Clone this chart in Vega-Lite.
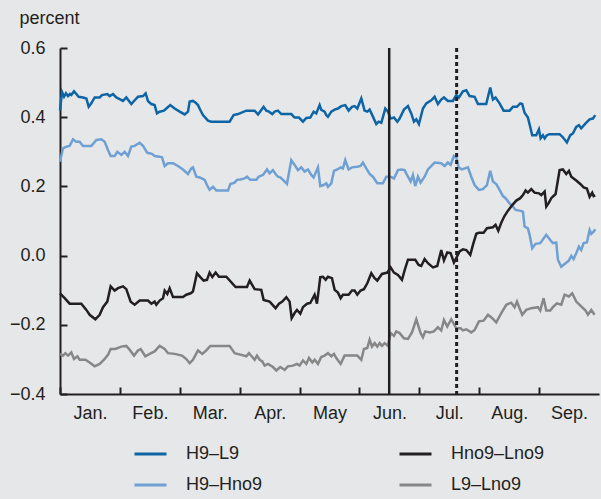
{
"$schema": "https://vega.github.io/schema/vega-lite/v6.json",
"width": 539, "height": 346,
"autosize": {"type": "none"},
"padding": {"left": 60, "top": 48, "right": 2, "bottom": 105},
"background": "#e6e7e9",
"config": {"view": {"stroke": null}, "font": "Liberation Sans"},
"datasets": {
"blue": [[0,0.42],[0.033,0.473],[0.067,0.459],[0.1,0.469],[0.134,0.461],[0.167,0.467],[0.189,0.464],[0.234,0.475],[0.273,0.467],[0.311,0.459],[0.384,0.457],[0.44,0.454],[0.479,0.43],[0.523,0.44],[0.579,0.457],[0.662,0.457],[0.701,0.464],[0.79,0.467],[0.829,0.461],[0.885,0.467],[0.94,0.457],[0.996,0.452],[1.052,0.447],[1.107,0.457],[1.191,0.438],[1.247,0.449],[1.302,0.459],[1.386,0.461],[1.43,0.469],[1.469,0.447],[1.525,0.438],[1.58,0.435],[1.619,0.411],[1.664,0.416],[1.736,0.419],[1.775,0.425],[1.842,0.435],[1.914,0.425],[1.998,0.416],[2.081,0.408],[2.137,0.416],[2.165,0.445],[2.22,0.447],[2.265,0.442],[2.304,0.435],[2.343,0.421],[2.387,0.406],[2.471,0.39],[2.526,0.387],[2.832,0.387],[2.899,0.406],[2.972,0.409],[3.111,0.419],[3.25,0.419],[3.306,0.408],[3.361,0.421],[3.4,0.43],[3.445,0.419],[3.489,0.416],[3.545,0.409],[3.584,0.416],[3.639,0.419],[3.695,0.409],[3.862,0.409],[3.918,0.399],[3.99,0.399],[4.057,0.387],[4.113,0.398],[4.179,0.399],[4.235,0.416],[4.279,0.411],[4.335,0.435],[4.363,0.421],[4.418,0.416],[4.446,0.406],[4.474,0.401],[4.53,0.416],[4.585,0.422],[4.641,0.425],[4.697,0.432],[4.763,0.435],[4.819,0.419],[4.875,0.43],[4.919,0.432],[4.964,0.425],[5.031,0.454],[5.086,0.419],[5.131,0.416],[5.17,0.422],[5.214,0.406],[5.281,0.38],[5.32,0.387],[5.365,0.384],[5.431,0.425],[5.476,0.416],[5.52,0.396],[5.576,0.399],[5.632,0.387],[5.671,0.396],[5.743,0.422],[5.81,0.432],[5.865,0.411],[5.91,0.387],[5.949,0.394],[5.993,0.38],[6.06,0.425],[6.116,0.44],[6.199,0.449],[6.255,0.459],[6.31,0.438],[6.366,0.451],[6.411,0.457],[6.477,0.447],[6.561,0.447],[6.617,0.464],[6.661,0.457],[6.728,0.475],[6.784,0.478],[6.839,0.461],[6.923,0.459],[6.978,0.438],[7.117,0.438],[7.184,0.486],[7.229,0.451],[7.273,0.457],[7.34,0.44],[7.407,0.419],[7.507,0.419],[7.563,0.43],[7.629,0.43],[7.685,0.44],[7.718,0.438],[7.757,0.413],[7.813,0.399],[7.885,0.348],[7.952,0.348],[7.997,0.365],[8.025,0.339],[8.064,0.348],[8.092,0.339],[8.13,0.348],[8.175,0.351],[8.342,0.351],[8.397,0.342],[8.464,0.327],[8.52,0.348],[8.564,0.353],[8.62,0.372],[8.665,0.377],[8.703,0.368],[8.776,0.382],[8.843,0.394],[8.898,0.396],[8.937,0.406]],
"lightblue": [[0,0.271],[0.05,0.31],[0.106,0.315],[0.161,0.317],[0.217,0.336],[0.273,0.329],[0.328,0.329],[0.384,0.317],[0.523,0.317],[0.607,0.334],[0.69,0.336],[0.746,0.329],[0.801,0.305],[0.846,0.288],[0.913,0.288],[0.957,0.3],[1.024,0.291],[1.08,0.3],[1.135,0.288],[1.191,0.315],[1.247,0.317],[1.33,0.326],[1.386,0.317],[1.458,0.297],[1.536,0.294],[1.58,0.288],[1.664,0.286],[1.703,0.284],[1.748,0.259],[1.803,0.267],[1.887,0.267],[1.97,0.259],[2.053,0.249],[2.137,0.236],[2.192,0.252],[2.22,0.255],[2.276,0.228],[2.332,0.226],[2.415,0.219],[2.454,0.204],[2.498,0.19],[2.554,0.199],[2.61,0.188],[2.805,0.188],[2.844,0.207],[2.916,0.211],[2.955,0.219],[3.011,0.22],[3.083,0.223],[3.122,0.228],[3.178,0.219],[3.278,0.219],[3.317,0.228],[3.389,0.233],[3.456,0.249],[3.5,0.238],[3.556,0.247],[3.6,0.236],[3.639,0.228],[3.678,0.226],[3.723,0.219],[3.79,0.207],[3.862,0.276],[3.918,0.262],[3.973,0.247],[4.029,0.255],[4.085,0.243],[4.14,0.249],[4.196,0.233],[4.235,0.226],[4.307,0.255],[4.346,0.201],[4.402,0.204],[4.446,0.209],[4.474,0.199],[4.53,0.209],[4.575,0.245],[4.63,0.249],[4.686,0.255],[4.724,0.252],[4.763,0.276],[4.819,0.249],[4.875,0.255],[4.964,0.257],[5.019,0.259],[5.058,0.269],[5.114,0.252],[5.17,0.236],[5.225,0.228],[5.298,0.209],[5.392,0.209],[5.448,0.228],[5.52,0.228],[5.576,0.223],[5.643,0.247],[5.699,0.249],[5.754,0.247],[5.81,0.228],[5.855,0.214],[5.893,0.233],[5.932,0.201],[5.977,0.228],[6.021,0.211],[6.088,0.228],[6.144,0.249],[6.255,0.269],[6.366,0.267],[6.422,0.259],[6.477,0.269],[6.522,0.262],[6.578,0.288],[6.617,0.284],[6.656,0.255],[6.711,0.249],[6.811,0.255],[6.867,0.228],[6.923,0.204],[6.995,0.19],[7.062,0.192],[7.129,0.204],[7.184,0.245],[7.229,0.214],[7.284,0.207],[7.34,0.19],[7.396,0.172],[7.44,0.166],[7.507,0.151],[7.563,0.142],[7.607,0.132],[7.674,0.13],[7.73,0.127],[7.757,0.084],[7.813,0.079],[7.841,0.06],[7.885,0.021],[7.941,0.034],[8.019,0.036],[8.119,0.06],[8.186,0.045],[8.23,0.036],[8.286,0.038],[8.314,-0.012],[8.37,-0.032],[8.442,-0.022],[8.498,-0.014],[8.537,-0.001],[8.576,-0.01],[8.62,0.007],[8.665,0.026],[8.703,0.016],[8.743,0.036],[8.798,0.038],[8.843,0.074],[8.871,0.063],[8.91,0.069],[8.937,0.076]],
"black": [[0,-0.109],[0.078,-0.123],[0.161,-0.139],[0.356,-0.139],[0.44,-0.157],[0.495,-0.171],[0.59,-0.184],[0.662,-0.171],[0.718,-0.149],[0.79,-0.133],[0.846,-0.089],[0.913,-0.101],[0.968,-0.094],[1.052,-0.089],[1.107,-0.097],[1.18,-0.133],[1.247,-0.142],[1.33,-0.13],[1.469,-0.13],[1.525,-0.139],[1.58,-0.133],[1.608,-0.142],[1.664,-0.13],[1.72,-0.123],[1.748,-0.101],[1.792,-0.111],[1.831,-0.094],[1.887,-0.12],[2.053,-0.12],[2.109,-0.113],[2.181,-0.109],[2.22,-0.104],[2.287,-0.051],[2.343,-0.062],[2.398,-0.072],[2.454,-0.07],[2.498,-0.049],[2.543,-0.062],[2.599,-0.049],[2.654,-0.061],[2.777,-0.061],[2.932,-0.091],[3.122,-0.091],[3.167,-0.072],[3.25,-0.097],[3.361,-0.099],[3.4,-0.128],[3.5,-0.133],[3.6,-0.152],[3.656,-0.139],[3.712,-0.133],[3.779,-0.12],[3.834,-0.133],[3.868,-0.181],[3.918,-0.166],[3.957,-0.157],[4.013,-0.168],[4.057,-0.149],[4.124,-0.139],[4.179,-0.137],[4.252,-0.113],[4.291,-0.139],[4.346,-0.062],[4.391,-0.061],[4.435,-0.07],[4.474,-0.061],[4.541,-0.065],[4.586,-0.099],[4.641,-0.107],[4.686,-0.123],[4.724,-0.113],[4.819,-0.113],[4.875,-0.101],[4.919,-0.101],[4.964,-0.113],[5.019,-0.101],[5.075,-0.097],[5.131,-0.08],[5.198,-0.051],[5.253,-0.065],[5.298,-0.072],[5.376,-0.053],[5.465,-0.049],[5.52,-0.034],[5.576,-0.049],[5.643,-0.056],[5.71,-0.07],[5.754,-0.043],[5.81,-0.012],[5.932,-0.012],[5.988,-0.027],[6.032,-0.03],[6.088,-0.01],[6.144,-0.022],[6.227,-0.034],[6.299,-0.03],[6.366,0.016],[6.411,-0.014],[6.466,0.009],[6.522,0.007],[6.578,-0.02],[6.672,0.012],[6.728,0.018],[6.784,0.016],[6.851,0.002],[6.895,0.031],[6.951,0.063],[6.995,0.066],[7.073,0.066],[7.129,0.079],[7.229,0.082],[7.273,0.089],[7.318,0.072],[7.368,0.095],[7.424,0.115],[7.48,0.13],[7.552,0.146],[7.619,0.159],[7.685,0.166],[7.73,0.175],[7.774,0.188],[7.813,0.182],[7.869,0.192],[7.924,0.182],[7.997,0.18],[8.036,0.175],[8.092,0.185],[8.12,0.142],[8.164,0.153],[8.203,0.166],[8.275,0.178],[8.342,0.247],[8.397,0.249],[8.453,0.236],[8.498,0.245],[8.537,0.228],[8.62,0.217],[8.687,0.207],[8.743,0.197],[8.798,0.194],[8.843,0.17],[8.887,0.182],[8.91,0.172],[8.937,0.174]],
"gray": [[0,-0.284],[0.05,-0.289],[0.089,-0.282],[0.134,-0.289],[0.189,-0.28],[0.234,-0.299],[0.29,-0.291],[0.328,-0.301],[0.423,-0.301],[0.495,-0.309],[0.579,-0.32],[0.662,-0.313],[0.735,-0.301],[0.801,-0.287],[0.846,-0.27],[0.924,-0.27],[1.024,-0.263],[1.107,-0.261],[1.163,-0.272],[1.236,-0.289],[1.302,-0.274],[1.347,-0.27],[1.425,-0.291],[1.497,-0.284],[1.58,-0.277],[1.664,-0.261],[1.748,-0.27],[1.803,-0.282],[1.914,-0.284],[2.037,-0.289],[2.109,-0.299],[2.165,-0.311],[2.22,-0.301],[2.304,-0.274],[2.376,-0.284],[2.443,-0.274],[2.51,-0.261],[2.832,-0.261],[2.916,-0.282],[3.027,-0.287],[3.111,-0.291],[3.155,-0.282],[3.211,-0.293],[3.25,-0.301],[3.289,-0.289],[3.334,-0.301],[3.378,-0.306],[3.417,-0.318],[3.472,-0.313],[3.556,-0.322],[3.612,-0.332],[3.678,-0.322],[3.751,-0.33],[3.806,-0.32],[3.89,-0.318],[3.957,-0.313],[4.001,-0.318],[4.057,-0.303],[4.113,-0.313],[4.157,-0.296],[4.213,-0.309],[4.252,-0.301],[4.307,-0.313],[4.363,-0.293],[4.418,-0.289],[4.474,-0.282],[4.53,-0.291],[4.575,-0.284],[4.614,-0.296],[4.686,-0.313],[4.752,-0.289],[4.964,-0.289],[5.031,-0.301],[5.075,-0.27],[5.131,-0.267],[5.17,-0.243],[5.209,-0.263],[5.253,-0.253],[5.298,-0.263],[5.337,-0.253],[5.376,-0.261],[5.42,-0.253],[5.476,-0.261],[5.52,-0.224],[5.576,-0.232],[5.615,-0.219],[5.671,-0.224],[5.743,-0.239],[5.81,-0.241],[5.877,-0.222],[5.949,-0.184],[6.021,-0.224],[6.06,-0.236],[6.099,-0.219],[6.171,-0.222],[6.244,-0.219],[6.31,-0.207],[6.366,-0.216],[6.411,-0.186],[6.466,-0.205],[6.533,-0.184],[6.617,-0.21],[6.689,-0.21],[6.728,-0.216],[6.784,-0.213],[6.867,-0.222],[6.923,-0.215],[6.995,-0.19],[7.073,-0.188],[7.146,-0.171],[7.218,-0.181],[7.284,-0.193],[7.368,-0.166],[7.452,-0.142],[7.535,-0.136],[7.591,-0.149],[7.63,-0.133],[7.685,-0.157],[7.718,-0.171],[7.785,-0.157],[7.869,-0.152],[7.98,-0.149],[8.019,-0.159],[8.075,-0.123],[8.119,-0.159],[8.186,-0.159],[8.23,-0.149],[8.297,-0.138],[8.37,-0.142],[8.426,-0.113],[8.498,-0.118],[8.553,-0.109],[8.62,-0.133],[8.703,-0.147],[8.776,-0.159],[8.815,-0.171],[8.871,-0.157],[8.926,-0.171]],
"events": [{"event": "solid", "month": 5.497}, {"event": "dashed", "month": 6.623}]
},
"layer": [
{
"data": {"name": "blue"},
"transform": [{"calculate": "datum[0]", "as": "month"}, {"calculate": "datum[1]", "as": "value"}],
"mark": {"type": "line", "strokeWidth": 2.5},
"encoding": {
"x": {"field": "month", "type": "quantitative", "scale": {"domain": [0, 9], "nice": false, "zero": false},
"axis": {"values": [0,1,2,3,4,5,6,7,8], "labelExpr": "['Jan.','Feb.','Mar.','Apr.','May','Jun.','Jul.','Aug.','Sep.'][datum.value]", "labelOffset": 30, "labelFlush": false, "labelOverlap": false, "tickSize": -7, "tickWidth": 2, "tickColor": "#231f20", "domainColor": "#231f20", "domainWidth": 2, "labelPadding": 17, "labelFontSize": 18, "labelColor": "#231f20", "grid": false, "title": null}},
"y": {"field": "value", "type": "quantitative", "scale": {"domain": [-0.4, 0.6], "nice": false, "zero": false},
"axis": {"values": [-0.4,-0.2,0,0.2,0.4,0.6], "format": ".1f", "tickSize": -7, "tickWidth": 2, "tickColor": "#231f20", "domainColor": "#231f20", "domainWidth": 2, "labelPadding": 22, "labelFontSize": 18, "labelColor": "#231f20", "grid": false, "title": "percent", "titleAngle": 0, "titleX": -41, "titleY": -30, "titleAlign": "left", "titleBaseline": "middle", "titleFontSize": 18, "titleFontWeight": "normal", "titleColor": "#231f20"}},
"color": {"datum": "H9–L9", "type": "nominal",
"scale": {"domain": ["H9–L9", "H9–Hno9", "Hno9–Lno9", "L9–Lno9"], "range": ["#0d65a6", "#6fa0d3", "#231f20", "#878787"]},
"legend": {"orient": "none", "legendX": 73, "legendY": 390.5, "columns": 2, "symbolType": "stroke", "symbolSize": 1024, "symbolStrokeWidth": 3, "labelFontSize": 18, "labelColor": "#231f20", "labelOffset": 18, "columnPadding": 135, "rowPadding": 0, "clipHeight": 31, "title": null, "padding": 0, "labelLimit": 0}}
}
},
{
"data": {"name": "lightblue"},
"transform": [{"calculate": "datum[0]", "as": "month"}, {"calculate": "datum[1]", "as": "value"}],
"mark": {"type": "line", "strokeWidth": 2.5},
"encoding": {"x": {"field": "month", "type": "quantitative"}, "y": {"field": "value", "type": "quantitative"}, "color": {"datum": "H9–Hno9", "type": "nominal"}}
},
{
"data": {"name": "gray"},
"transform": [{"calculate": "datum[0]", "as": "month"}, {"calculate": "datum[1]", "as": "value"}],
"mark": {"type": "line", "strokeWidth": 2.5},
"encoding": {"x": {"field": "month", "type": "quantitative"}, "y": {"field": "value", "type": "quantitative"}, "color": {"datum": "L9–Lno9", "type": "nominal"}}
},
{
"data": {"name": "black"},
"transform": [{"calculate": "datum[0]", "as": "month"}, {"calculate": "datum[1]", "as": "value"}],
"mark": {"type": "line", "strokeWidth": 2.5},
"encoding": {"x": {"field": "month", "type": "quantitative"}, "y": {"field": "value", "type": "quantitative"}, "color": {"datum": "Hno9–Lno9", "type": "nominal"}}
},
{
"data": {"name": "events"},
"transform": [{"filter": "datum.event == 'solid'"}],
"mark": {"type": "rule", "color": "#231f20", "strokeWidth": 2.5},
"encoding": {"x": {"field": "month", "type": "quantitative"}}
},
{
"data": {"name": "events"},
"transform": [{"filter": "datum.event == 'dashed'"}],
"mark": {"type": "rule", "color": "#231f20", "strokeWidth": 3, "strokeDash": [4, 3]},
"encoding": {"x": {"field": "month", "type": "quantitative"}}
}
]
}
